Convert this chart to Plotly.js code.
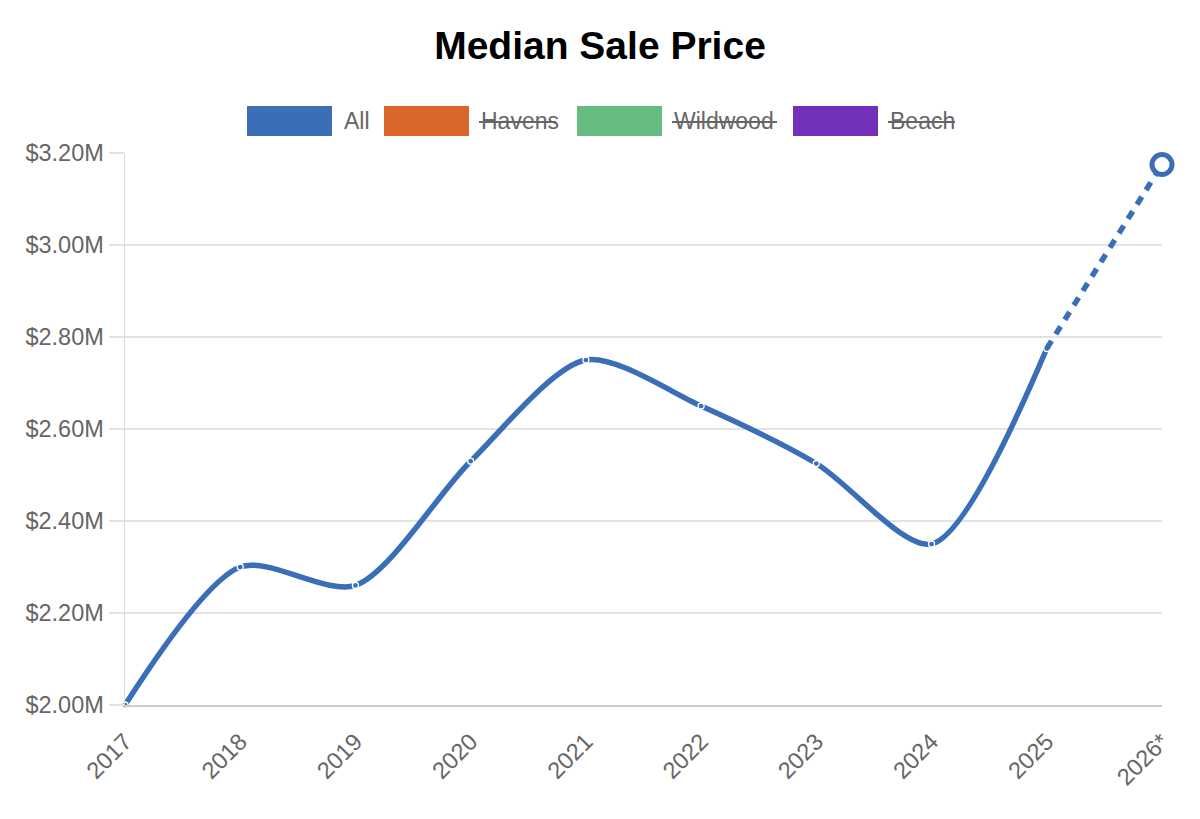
<!DOCTYPE html>
<html>
<head>
<meta charset="utf-8">
<script src="https://cdn.plot.ly/plotly-3.0.1.min.js"></script>
<style>
  html, body { margin: 0; padding: 0; background: #fff; }
  #chart { width: 1200px; height: 819px; }
</style>
</head>
<body>
<div id="chart"></div>
<script>
// Median sale price by year, in millions of dollars (2026 is a projection)
const years = ['2017', '2018', '2019', '2020', '2021', '2022', '2023', '2024', '2025', '2026*'];
const medianAll = [2.00, 2.30, 2.26, 2.53, 2.75, 2.65, 2.525, 2.35, 2.775, 3.175];
const projectedFrom = 8; // index of the last actual year; the step after it is dashed

// Series shown in the legend; only the first one is switched on
const seriesNames = ['All', 'Havens', 'Wildwood', 'Beach'];
const seriesColors = ['#3a6fb7', '#d9662a', '#66bb80', '#7330ba'];
const seriesVisible = [true, false, false, false];

const yTicks = [2.0, 2.2, 2.4, 2.6, 2.8, 3.0, 3.2];
const yTickText = yTicks.map(v => '$' + v.toFixed(2) + 'M');

const blue = seriesColors[0];
const FONT = 'Liberation Sans, Arial, Helvetica, sans-serif';

const actual = {
  x: years.slice(0, projectedFrom + 1),
  y: medianAll.slice(0, projectedFrom + 1),
  type: 'scatter',
  mode: 'lines+markers',
  line: { color: blue, width: 5.5, shape: 'spline', smoothing: 0.8 },
  marker: { size: 6, color: blue, line: { color: '#ffffff', width: 1.3 } },
  hoverinfo: 'skip',
  showlegend: false,
  cliponaxis: false
};

const projected = {
  x: years.slice(projectedFrom),
  y: medianAll.slice(projectedFrom),
  type: 'scatter',
  mode: 'lines',
  line: { color: blue, width: 5.5, dash: '9px,8px' },
  hoverinfo: 'skip',
  showlegend: false,
  cliponaxis: false
};

const projectedPoint = {
  x: years.slice(years.length - 1),
  y: medianAll.slice(medianAll.length - 1),
  type: 'scatter',
  mode: 'markers',
  marker: { size: 20, color: '#ffffff', line: { color: blue, width: 5 } },
  hoverinfo: 'skip',
  showlegend: false,
  cliponaxis: false
};

// Plot area in pixels (used to place the box-style legend in paper units)
const M = { l: 125, r: 38, t: 153, b: 114 };
const W = 1200, H = 819;
const pw = W - M.l - M.r, ph = H - M.t - M.b;
const px = v => (v - M.l) / pw;
const py = v => (H - M.b - v) / ph;

// Legend layout: left edge of each colour box and width of each label
const legendBoxX = [247, 384, 577, 793];
const legendLabelW = [27, 77, 105, 67];
const boxW = 85, boxTop = 106, boxBottom = 136, labelGap = 10;
const legendMidY = (boxTop + boxBottom) / 2;

const shapes = [];
const annotations = [];
seriesNames.forEach((name, i) => {
  const x0 = legendBoxX[i];
  shapes.push({
    type: 'rect', xref: 'paper', yref: 'paper',
    x0: px(x0), x1: px(x0 + boxW), y0: py(boxBottom), y1: py(boxTop),
    fillcolor: seriesColors[i], line: { width: 0 }, layer: 'above'
  });
  const tx = x0 + boxW + labelGap;
  annotations.push({
    xref: 'paper', yref: 'paper', x: px(tx), y: py(legendMidY),
    xanchor: 'left', yanchor: 'middle', showarrow: false,
    text: name, font: { family: FONT, size: 23, color: '#666666' }
  });
  if (!seriesVisible[i]) {
    shapes.push({
      type: 'line', xref: 'paper', yref: 'paper',
      x0: px(tx), x1: px(tx + legendLabelW[i]), y0: py(legendMidY + 1), y1: py(legendMidY + 1),
      line: { color: '#666666', width: 2 }, layer: 'above'
    });
  }
});

const layout = {
  width: W, height: H,
  margin: M,
  paper_bgcolor: '#ffffff',
  plot_bgcolor: '#ffffff',
  title: {
    text: '<b>Median Sale Price</b>',
    font: { family: FONT, size: 39, color: '#000000' },
    x: 0.5, xref: 'container', xanchor: 'center',
    y: 1 - 45 / H, yref: 'container', yanchor: 'middle'
  },
  showlegend: false,
  xaxis: {
    type: 'category',
    range: [0, years.length - 1],
    showgrid: false,
    zeroline: false,
    showline: true, linecolor: '#cccccc', linewidth: 1.5,
    ticks: '',
    tickangle: -45,
    ticklabelstandoff: 12,
    tickfont: { family: FONT, size: 23.5, color: '#666666' },
    fixedrange: true
  },
  yaxis: {
    range: [2.0, 3.2],
    tickmode: 'array',
    tickvals: yTicks,
    ticktext: yTickText,
    showgrid: true, gridcolor: '#e3e3e3', gridwidth: 1.5,
    zeroline: false,
    showline: true, linecolor: '#dddddd', linewidth: 1.5,
    ticks: 'outside', ticklen: 15, tickcolor: '#e3e3e3', tickwidth: 1.5,
    tickfont: { family: FONT, size: 23.5, color: '#666666' },
    fixedrange: true
  },
  shapes: shapes,
  annotations: annotations
};

Plotly.newPlot('chart', [actual, projected, projectedPoint], layout, { displayModeBar: false, staticPlot: true });
</script>
</body>
</html>
